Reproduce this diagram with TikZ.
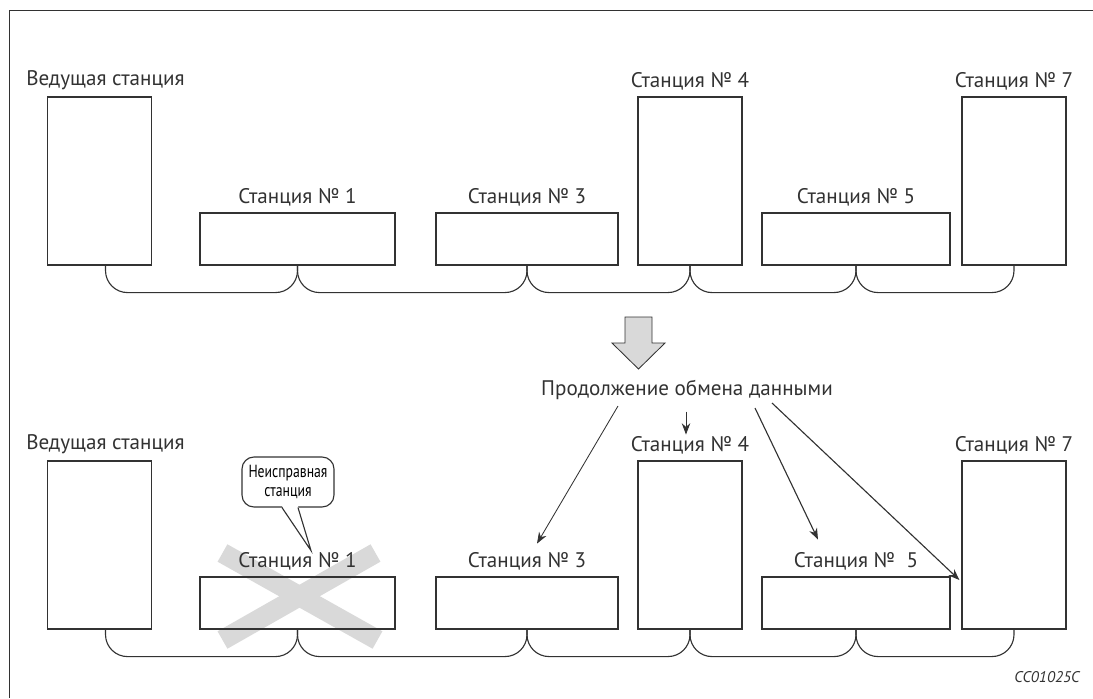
\documentclass[tikz,border=0pt]{standalone}
\usepackage{fontspec}
\setmainfont{PT Sans}
\newfontfamily\narrowfont{PT Sans}[FakeStretch=0.78]
\usepackage{tikz}
\usetikzlibrary{positioning,calc,arrows.meta,backgrounds}
\definecolor{crossgray}{RGB}{217,217,217}
\definecolor{linegray}{RGB}{50,50,50}

\begin{document}
\begin{tikzpicture}[
    x=0.025cm, y=-0.025cm,
    tallbox/.style={rectangle, draw=linegray, line width=0.8pt, minimum width=2.6cm, minimum height=4.2cm, inner sep=0pt},
    flatbox/.style={rectangle, draw=linegray, line width=0.8pt, minimum height=1.3cm, inner sep=0pt},
    lbl/.style={font=\fontsize{15}{17}\selectfont, text=linegray, inner sep=1pt},
    cable/.style={draw=linegray, line width=0.8pt, rounded corners=0.55cm},
    arrow/.style={-{Stealth[length=8pt, width=6pt]}, line width=0.6pt, color=linegray},
    bubble/.style={rectangle, draw=linegray, line width=0.8pt, rounded corners=0.3cm, align=center, minimum width=2.3cm, minimum height=1.25cm, inner sep=1pt, font=\narrowfont\fontsize{12.5}{14}\selectfont}
]
\useasboundingbox (0,0) rectangle (1093,698);
\draw[linegray, line width=0.6pt] (1093,10.5) -- (9.5,10.5) -- (9.5,698);

% top row
\node[tallbox] (master) at (99.5,181) {};
\node[flatbox, minimum width=4.875cm] (st1) at (297.5,239) {};
\node[flatbox, minimum width=4.55cm] (st3) at (527,239) {};
\node[tallbox] (st4) at (690,181) {};
\node[flatbox, minimum width=4.7cm] (st5) at (856,239) {};
\node[tallbox] (st7) at (1014,181) {};

\node[lbl, above=0.12cm of master, xshift=0.15cm] (lmaster) {Ведущая станция};
\node[lbl, above=0.12cm of st1] (l1) {Станция № 1};
\node[lbl, above=0.12cm of st3] (l3) {Станция № 3};
\node[lbl, above=0.12cm of st4] (l4) {Станция № 4};
\node[lbl, above=0.12cm of st5] (l5) {Станция № 5};
\node[lbl, above=0.12cm of st7] (l7) {Станция № 7};

\draw[cable] ($(master.south)+(6,0)$) -- ++(0,27) -| (st1.south);
\foreach \a/\b in {st1/st3, st3/st4, st4/st5, st5/st7}
  \draw[cable] (\a.south) -- ++(0,27) -| (\b.south);

% transition
\filldraw[fill=crossgray, draw=linegray, line width=0.6pt] (625,317) -- (652,317) -- (652,343) -- (665,343) -- (638.5,369) -- (612,343) -- (625,343) -- cycle;
\node[lbl] (cont) at (687,390) {Продолжение обмена данными};

% bottom row
\node[tallbox] (masterB) at (99.5,545) {};
\node[flatbox, minimum width=4.875cm] (st1B) at (297.5,603) {};
\node[flatbox, minimum width=4.55cm] (st3B) at (527,603) {};
\node[tallbox] (st4B) at (690,545) {};
\node[flatbox, minimum width=4.7cm] (st5B) at (856,603) {};
\node[tallbox] (st7B) at (1014,545) {};

\node[lbl, above=0.12cm of masterB, xshift=0.15cm] (lmasterB) {Ведущая станция};
\node[lbl, above=0.12cm of st1B] (l1B) {Станция № 1};
\node[lbl, above=0.12cm of st3B] (l3B) {Станция № 3};
\node[lbl, above=0.12cm of st4B] (l4B) {Станция № 4};
\node[lbl, above=0.12cm of st5B] (l5B) {Станция №\ \ 5};
\node[lbl, above=0.12cm of st7B] (l7B) {Станция № 7};

\draw[cable] ($(masterB.south)+(6,0)$) -- ++(0,27) -| (st1B.south);
\foreach \a/\b in {st1B/st3B, st3B/st4B, st4B/st5B, st5B/st7B}
  \draw[cable] (\a.south) -- ++(0,27) -| (\b.south);

\begin{scope}[on background layer]
\draw[crossgray, line width=0.5cm] ($(st1B.center)+(-75,-50)$) -- ($(st1B.center)+(80,37)$);
\draw[crossgray, line width=0.5cm] ($(st1B.center)+(78,-50)$) -- ($(st1B.center)+(-75,37)$);
\end{scope}

% faulty station callout
\node[bubble] (bub) at (288,482) {Неисправная\\станция};
\coordinate (tip) at ($(bub.south)+(23,43)$);
\fill[white] ($(bub.south)+(-6,-1.5)$) -- (tip) -- ($(bub.south)+(10,-1.5)$) -- cycle;
\draw[linegray, line width=0.8pt] ($(bub.south)+(-6,0)$) -- (tip) -- ($(bub.south)+(10,0)$);

% data exchange goes on
\draw[arrow] ($(cont.center)+(-69,16)$) -- ($(l3B.north)+(10,-7)$);
\draw[arrow] ($(l4B.north)+(-4,-23)$) -- ($(l4B.north)+(-4,0)$);
\draw[arrow, line width=0.8pt] ($(cont.center)+(68,18)$) -- ($(l5B.north)+(-38,-11)$);
\draw[arrow, line width=0.8pt] ($(cont.center)+(85,13)$) -- ($(st7B.west)+(-2,35)$);

\node[font=\itshape\fontsize{11}{13}\selectfont, text=linegray] (code) at (1047,677) {CC01025C};
\end{tikzpicture}
\end{document}
